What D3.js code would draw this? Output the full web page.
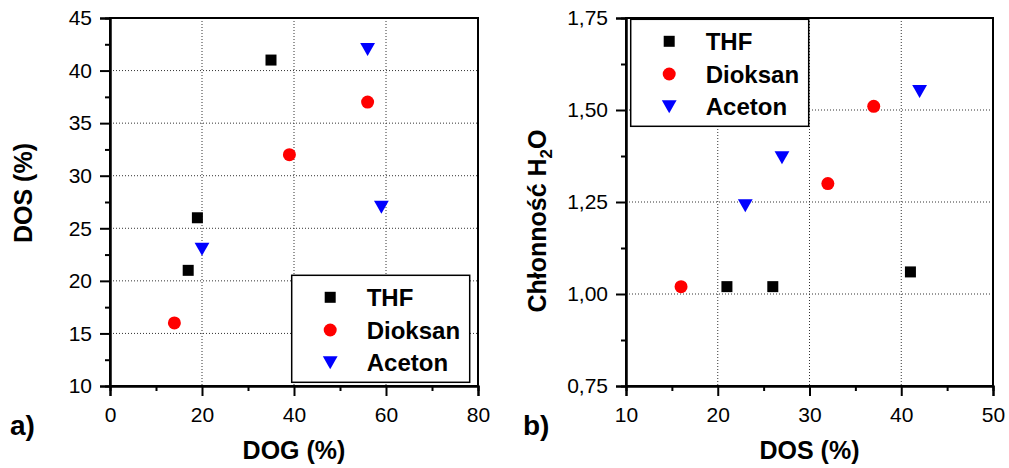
<!DOCTYPE html>
<html>
<head>
<meta charset="utf-8">
<script src="https://cdn.jsdelivr.net/npm/d3@7"></script>
<style>
body { margin: 0; background: #fff; }
text { font-family: "Liberation Sans", Arial, sans-serif; }
</style>
</head>
<body>
<div id="chart"></div>
<script>
'use strict';

// panel a) DOG vs DOS
var seriesNames = ['THF', 'Dioksan', 'Aceton'];
var thfDog = [17, 19, 35];
var thfDos = [21, 26, 41];
var dioksanDog = [14, 39, 56];
var dioksanDos = [16, 32, 37];
var acetonDog = [20, 56, 59];
var acetonDos = [23, 42, 27];

// panel b) DOS vs water uptake
var thfDosB = [21, 26, 41];
var thfH2o = [1.02, 1.02, 1.06];
var dioksanDosB = [16, 32, 37];
var dioksanH2o = [1.02, 1.30, 1.51];
var acetonDosB = [23, 27, 42];
var acetonH2o = [1.24, 1.37, 1.55];

var aXTicks = [0, 20, 40, 60, 80];
var aXMinor = [10, 30, 50, 70];
var aYTicks = [10, 15, 20, 25, 30, 35, 40, 45];
var aYMinor = [12.5, 17.5, 22.5, 27.5, 32.5, 37.5, 42.5];
var bXTicks = [10, 20, 30, 40, 50];
var bXMinor = [15, 25, 35, 45];
var bYTicks = [0.75, 1.00, 1.25, 1.50, 1.75];
var bYMinor = [0.875, 1.125, 1.375, 1.625];

var myApp = {};
myApp.W = 1009;
myApp.H = 468;
myApp.colors = {THF: '#000', Dioksan: '#ff0000', Aceton: '#0000ff'};

myApp.svg = d3.select('#chart').append('svg')
    .attr('width', myApp.W)
    .attr('height', myApp.H);

myApp.drawMarker = function(g, name, x, y)
{
    var c = myApp.colors[name];
    if (name === 'THF') {
        g.append('rect').attr('x', x - 5.5).attr('y', y - 5.5)
            .attr('width', 11).attr('height', 11).attr('fill', c);
    } else if (name === 'Dioksan') {
        g.append('circle').attr('cx', x).attr('cy', y).attr('r', 6.5).attr('fill', c);
    } else {
        // downward triangle, centred on its bounding box
        g.append('path')
            .attr('d', 'M' + (x - 7.4) + ',' + (y - 6.5) + 'L' + (x + 7.4) + ',' + (y - 6.5) + 'L' + x + ',' + (y + 6.5) + 'Z')
            .attr('fill', c);
    }
}

myApp.buildPanel = function(p)
{
    var g = myApp.svg.append('g')
        .attr('transform', 'translate(' + p.left + ',' + p.top + ')');

    var x = d3.scaleLinear().domain(p.xDomain).range([0, p.width]);
    var y = d3.scaleLinear().domain(p.yDomain).range([p.height, 0]);

    // dotted grid on inner major ticks
    g.selectAll('.gx').data(p.xTicks.slice(1, -1)).enter().append('line')
        .attr('x1', function(d){ return x(d); }).attr('x2', function(d){ return x(d); })
        .attr('y1', 0).attr('y2', p.height)
        .attr('stroke', '#333').attr('stroke-width', 1).attr('stroke-dasharray', '1,2');
    g.selectAll('.gy').data(p.yTicks.slice(1, -1)).enter().append('line')
        .attr('y1', function(d){ return y(d); }).attr('y2', function(d){ return y(d); })
        .attr('x1', 0).attr('x2', p.width)
        .attr('stroke', '#333').attr('stroke-width', 1).attr('stroke-dasharray', '1,2');

    // frame
    g.append('rect').attr('width', p.width).attr('height', p.height)
        .attr('fill', 'none').attr('stroke', '#000').attr('stroke-width', 2);

    var xAxis = g.append('g').attr('transform', 'translate(0,' + p.height + ')')
        .call(d3.axisBottom(x).tickValues(p.xTicks).tickSize(10).tickPadding(11)
            .tickFormat(p.xFormat));
    var xMinor = g.append('g').attr('transform', 'translate(0,' + p.height + ')')
        .call(d3.axisBottom(x).tickValues(p.xMinor).tickSize(5).tickFormat(''));
    var yAxis = g.append('g')
        .call(d3.axisLeft(y).tickValues(p.yTicks).tickSize(10).tickPadding(8)
            .tickFormat(p.yFormat));
    var yMinor = g.append('g')
        .call(d3.axisLeft(y).tickValues(p.yMinor).tickSize(5).tickFormat(''));

    [xAxis, xMinor, yAxis, yMinor].forEach(function(a){
        a.select('.domain').attr('stroke-width', 2);
        a.selectAll('.tick line').attr('stroke-width', 2);
        a.selectAll('.tick text').attr('font-size', 21).attr('fill', '#000')
            .style('font-family', '"Liberation Sans", Arial, sans-serif');
    });

    // points
    var pts = g.append('g');
    p.series.forEach(function(s){
        s.xs.forEach(function(v, i){
            myApp.drawMarker(pts, s.name, x(v), y(s.ys[i]));
        });
    });

    // legend
    var lg = g.append('g').attr('transform', 'translate(' + p.legend[0] + ',' + p.legend[1] + ')');
    lg.append('rect').attr('width', 178).attr('height', 107)
        .attr('fill', '#fff').attr('stroke', '#000').attr('stroke-width', 1.5);
    seriesNames.forEach(function(n, i){
        var ry = 22 + i * 32.7;
        myApp.drawMarker(lg, n, 38.5, ry);
        lg.append('text').attr('x', 75).attr('y', ry + 8.6)
            .attr('font-size', 24).attr('font-weight', 'bold').text(n);
    });

    // axis titles
    g.append('text').attr('x', p.width / 2).attr('y', 441)
        .attr('text-anchor', 'middle').attr('font-size', 25).attr('font-weight', 'bold')
        .text(p.xTitle);

    var yt = g.append('text')
        .attr('transform', 'translate(' + p.yTitlePos[0] + ',' + p.yTitlePos[1] + ') rotate(-90)')
        .attr('text-anchor', 'middle').attr('font-size', 25).attr('font-weight', 'bold');
    p.yTitle.forEach(function(part){
        var t = yt.append('tspan').text(part.t);
        if (part.sub) t.attr('font-size', 17).attr('dy', 6);
        if (part.after) t.attr('dy', -6);
    });

    g.append('text').attr('x', p.tag[0]).attr('y', p.tag[1])
        .attr('font-size', 28).attr('font-weight', 'bold').text(p.tagText);
}

myApp.run = function()
{
    myApp.buildPanel({
        left: 110, top: 18, width: 368, height: 368,
        xDomain: [0, 80], yDomain: [10, 45],
        xTicks: aXTicks, xMinor: aXMinor, yTicks: aYTicks, yMinor: aYMinor,
        xFormat: d3.format('d'), yFormat: d3.format('d'),
        series: [
            {name: 'THF', xs: thfDog, ys: thfDos},
            {name: 'Dioksan', xs: dioksanDog, ys: dioksanDos},
            {name: 'Aceton', xs: acetonDog, ys: acetonDos}
        ],
        legend: [181.7, 257.3],
        xTitle: 'DOG (%)',
        yTitle: [{t: 'DOS (%)'}],
        yTitlePos: [-78, 175],
        tag: [-100, 417], tagText: 'a)'
    });

    myApp.buildPanel({
        left: 626, top: 18, width: 367, height: 368,
        xDomain: [10, 50], yDomain: [0.75, 1.75],
        xTicks: bXTicks, xMinor: bXMinor, yTicks: bYTicks, yMinor: bYMinor,
        xFormat: d3.format('d'),
        yFormat: function(d){ return d3.format('.2f')(d).replace('.', ','); },
        series: [
            {name: 'THF', xs: thfDosB, ys: thfH2o},
            {name: 'Dioksan', xs: dioksanDosB, ys: dioksanH2o},
            {name: 'Aceton', xs: acetonDosB, ys: acetonH2o}
        ],
        legend: [4.7, 1.3],
        xTitle: 'DOS (%)',
        yTitle: [{t: 'Chłonność H'}, {t: '2', sub: true}, {t: 'O', after: true}],
        yTitlePos: [-80, 203],
        tag: [-103, 417], tagText: 'b)'
    });
}

myApp.run();
</script>
</body>
</html>
